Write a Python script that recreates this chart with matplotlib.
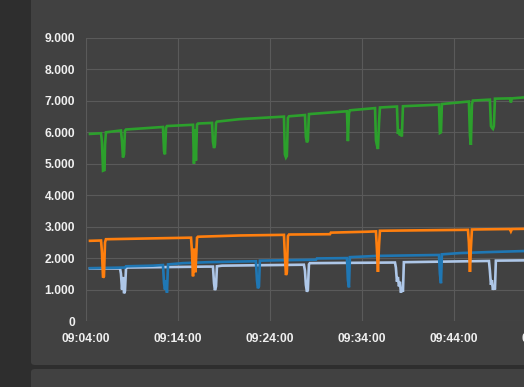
import matplotlib
matplotlib.use("Agg")
import matplotlib.pyplot as plt
import matplotlib.dates as mdates
from matplotlib.patches import FancyBboxPatch
from matplotlib.ticker import FuncFormatter, MultipleLocator
from datetime import datetime

# ---------------- data ----------------
green_t = ["09:04:26", "09:05:38", "09:05:44", "09:05:51", "09:06:01", "09:06:04", "09:06:10",
           "09:07:48", "09:07:55", "09:08:01", "09:08:08", "09:08:14", "09:08:21",
           "09:12:22", "09:12:29", "09:12:35", "09:12:42", "09:12:48",
           "09:15:38", "09:15:44", "09:15:51", "09:15:57", "09:16:04", "09:16:10",
           "09:17:42", "09:17:48", "09:17:55", "09:18:01", "09:18:08", "09:18:14",
           "09:20:44",
           "09:25:31", "09:25:37", "09:25:44", "09:25:50", "09:25:57", "09:26:04",
           "09:27:48", "09:27:54", "09:28:01", "09:28:07", "09:28:14",
           "09:32:22", "09:32:28", "09:32:35", "09:32:41",
           "09:35:25", "09:35:31", "09:35:37", "09:35:44", "09:35:51", "09:35:57",
           "09:37:48", "09:37:54", "09:38:01", "09:38:07", "09:38:14", "09:38:20", "09:38:27",
           "09:42:22", "09:42:28", "09:42:35", "09:42:41",
           "09:45:37", "09:45:44", "09:45:50", "09:45:57", "09:46:03",
           "09:47:54", "09:48:01", "09:48:07", "09:48:14", "09:48:20", "09:48:27",
           "09:50:04", "09:50:11", "09:50:18", "09:51:36", "09:52:15"]
green_v = [5950, 5970, 5700, 4780, 4800, 5600, 6000,
           6060, 5700, 5200, 5300, 6050, 6090,
           6170, 5400, 5300, 6150, 6200,
           6240, 5000, 6100, 5100, 6250, 6280,
           6300, 5700, 5500, 5600, 6300, 6340,
           6420,
           6500, 5300, 5200, 5250, 6460, 6510,
           6550, 5850, 5680, 5750, 6580,
           6670, 5720, 6600, 6700,
           6770, 5750, 5600, 5470, 6300, 6790,
           6820, 5950, 6100, 5900, 6000, 5870, 6830,
           6880, 5980, 6000, 6900,
           6980, 5900, 5600, 6900, 7010,
           7040, 6200, 6150, 6110, 6200, 7070,
           7080, 6950, 7080, 7110, 7120]

orange_t = ["09:04:26", "09:05:38", "09:05:44", "09:05:51", "09:05:57", "09:06:04", "09:06:10",
            "09:15:25", "09:15:31", "09:15:38", "09:15:44", "09:15:54", "09:16:04", "09:16:10",
            "09:20:44",
            "09:25:31", "09:25:37", "09:25:44", "09:25:50", "09:25:57", "09:26:04",
            "09:30:31", "09:30:37", "09:34:39",
            "09:35:31", "09:35:37", "09:35:44", "09:35:51", "09:35:57",
            "09:45:31", "09:45:37", "09:45:44", "09:45:50", "09:45:57",
            "09:50:04", "09:50:11", "09:50:18", "09:52:15"]
orange_v = [2550, 2560, 2200, 1380, 1420, 2500, 2600,
            2650, 2200, 1420, 2300, 1550, 2650, 2680,
            2720,
            2740, 2100, 1460, 1550, 2700, 2750,
            2760, 2810, 2840,
            2850, 2300, 1560, 2400, 2870,
            2900, 2500, 1560, 2300, 2910,
            2925, 2850, 2925, 2935]

blue_t = ["09:04:26", "09:08:14", "09:08:21", "09:11:17",
          "09:12:22", "09:12:29", "09:12:35", "09:12:42", "09:12:48", "09:12:55",
          "09:14:32", "09:17:15", "09:20:25",
          "09:22:28", "09:22:35", "09:22:41", "09:22:48", "09:22:54",
          "09:29:00", "09:29:06",
          "09:32:22", "09:32:28", "09:32:35", "09:32:41",
          "09:35:37",
          "09:42:22", "09:42:28", "09:42:35", "09:42:41",
          "09:44:38", "09:47:35", "09:52:15"]
blue_v = [1680, 1700, 1740, 1760,
          1780, 1200, 1000, 1300, 900, 1800,
          1840, 1870, 1890,
          1900, 1300, 1040, 1100, 1920,
          1950, 1990,
          2000, 1300, 1070, 2030,
          2070,
          2100, 1500, 1200, 2120,
          2160, 2190, 2230]

light_t = ["09:04:26", "09:07:42", "09:07:48", "09:07:55", "09:08:01", "09:08:08", "09:08:14",
           "09:08:21", "09:08:27",
           "09:17:09", "09:17:48", "09:17:55", "09:18:01", "09:18:08", "09:18:14", "09:18:47",
           "09:27:41", "09:27:48", "09:27:54", "09:28:01", "09:28:07", "09:28:14", "09:28:20",
           "09:37:35", "09:37:41", "09:37:48", "09:37:54", "09:38:01", "09:38:07", "09:38:14",
           "09:38:20", "09:38:27", "09:38:33",
           "09:47:48", "09:47:54", "09:48:01", "09:48:07", "09:48:14", "09:48:20", "09:48:27",
           "09:48:33", "09:52:15"]
light_v = [1670, 1670, 1500, 1000, 1400, 880, 950,
           1680, 1700,
           1730, 1730, 1200, 980, 1100, 1740, 1760,
           1790, 1600, 1150, 930, 1000, 1800, 1840,
           1860, 1700, 1250, 1400, 1100, 1250, 900,
           1050, 930, 1870,
           1910, 1600, 1150, 1300, 990, 1100, 1000,
           1920, 1930]

x_ticks = ["09:04:00", "09:14:00", "09:24:00", "09:34:00", "09:44:00", "09:54:00"]
x_start, x_end = "09:04:00", "09:58:00"


def to_dt(s):
    return datetime.strptime("2024-01-01 " + s, "%Y-%m-%d %H:%M:%S")


# ---------------- figure ----------------
W, H = 524, 387
fig = plt.figure(figsize=(W / 100, H / 100), dpi=100)
fig.patch.set_facecolor("#2e2e2e")

panel = FancyBboxPatch((31 / W, (H - 365) / H), (W + 20 - 31) / W, 400 / H,
                       boxstyle="round,pad=0,rounding_size=0.008",
                       transform=fig.transFigure, facecolor="#414141",
                       edgecolor="none", zorder=-5)
fig.patches.append(panel)
panel2 = FancyBboxPatch((31 / W, -0.1), (W + 20 - 31) / W, (H - 369) / H + 0.1,
                        boxstyle="round,pad=0,rounding_size=0.008",
                        transform=fig.transFigure, facecolor="#414141",
                        edgecolor="none", zorder=-5)
fig.patches.append(panel2)

px_per_min = 9.2
total_min = (to_dt(x_end) - to_dt(x_start)).total_seconds() / 60
ax_left, ax_top, ax_bottom = 86, 38, 321
ax = fig.add_axes([ax_left / W, (H - ax_bottom) / H,
                   total_min * px_per_min / W, (ax_bottom - ax_top) / H])
ax.set_zorder(2)
ax.patch.set_alpha(0)

series = [
    (light_t, light_v, "#aec7e8"),
    (blue_t, blue_v, "#1f77b4"),
    (orange_t, orange_v, "#ff7f0e"),
    (green_t, green_v, "#2ca02c"),
]
for t, v, c in series:
    ax.plot([to_dt(s) for s in t], v, color=c, lw=1.9, solid_joinstyle="miter",
            zorder=3)

ax.set_xlim(to_dt(x_start), to_dt(x_end))
ax.set_ylim(0, 9000)
ax.set_xticks([mdates.date2num(to_dt(s)) for s in x_ticks])
ax.set_xticklabels(x_ticks)
ax.yaxis.set_major_locator(MultipleLocator(1000))
ax.yaxis.set_major_formatter(FuncFormatter(
    lambda v, p: "0" if v == 0 else f"{v:,.0f}".replace(",", ".")))

for sp in ax.spines.values():
    sp.set_visible(False)
ax.grid(True, color="#5a5a5a", lw=0.8, zorder=1)
ax.set_axisbelow(True)
ax.tick_params(axis="both", length=0, colors="#f0f0f0", labelsize=8.7)
ax.tick_params(axis="y", pad=8)
ax.tick_params(axis="x", pad=9)
for lab in ax.get_xticklabels() + ax.get_yticklabels():
    lab.set_fontfamily(["Liberation Sans", "DejaVu Sans"])
    lab.set_fontweight("bold")

fig.savefig("out.png", dpi=100, facecolor=fig.get_facecolor())
